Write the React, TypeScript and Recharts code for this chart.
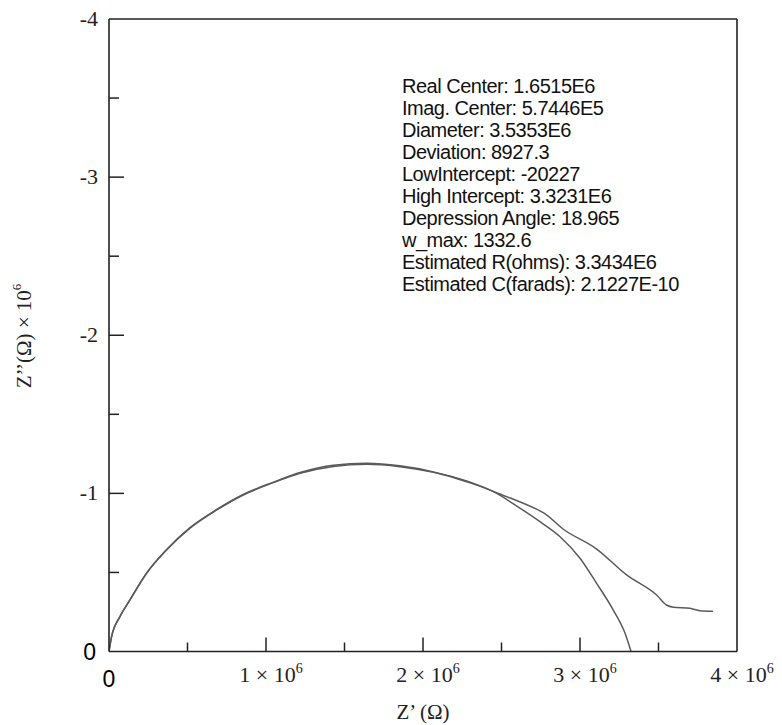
import { LineChart, Line, XAxis, YAxis, ReferenceLine } from 'recharts';

// Z' (ohm) and -Z'' (x 1e6 ohm)
const fitZre = [0, 17000, 70000, 134000, 240000, 367000, 516000, 686000, 855000, 1047000, 1217000, 1429000, 1641000, 1853000, 2066000, 2278000, 2448000, 2620000, 2745000, 2873000, 3000000, 3106000, 3212000, 3287000, 3325000];
const fitZim = [0, -0.094, -0.22, -0.326, -0.495, -0.642, -0.78, -0.895, -0.99, -1.068, -1.127, -1.17, -1.184, -1.169, -1.133, -1.074, -1.011, -0.905, -0.821, -0.726, -0.59, -0.431, -0.262, -0.115, 0];

const measZre = [0, 15000, 70000, 134000, 240000, 367000, 516000, 686000, 855000, 1047000, 1217000, 1429000, 1641000, 1853000, 2066000, 2278000, 2490000, 2745000, 2766000, 2894000, 3106000, 3297000, 3488000, 3551000, 3594000, 3700000, 3764000, 3848000];
const measZim = [0, -0.09, -0.222, -0.328, -0.497, -0.645, -0.783, -0.898, -0.993, -1.071, -1.132, -1.178, -1.19, -1.174, -1.136, -1.078, -0.996, -0.889, -0.878, -0.773, -0.648, -0.484, -0.357, -0.294, -0.28, -0.273, -0.258, -0.254];

const xTicks = [0, 500000, 1000000, 1500000, 2000000, 2500000, 3000000, 3500000, 4000000];
const yTicks = [-4, -3.5, -3, -2.5, -2, -1.5, -1, -0.5, 0];

const fitLines = [
  'Real Center: 1.6515E6',
  'Imag. Center: 5.7446E5',
  'Diameter: 3.5353E6',
  'Deviation: 8927.3',
  'LowIntercept: -20227',
  'High Intercept: 3.3231E6',
  'Depression Angle: 18.965',
  'w_max: 1332.6',
  'Estimated R(ohms): 3.3434E6',
  'Estimated C(farads): 2.1227E-10',
];

const fitData = fitZre.map((zre, i) => ({ zre, zim: fitZim[i] }));
const measData = measZre.map((zre, i) => ({ zre, zim: measZim[i] }));

const AXIS = '#222';
const CURVE = '#5a5a5a';
const SERIF = '"Liberation Serif", "Times New Roman", serif';
const SANS = '"Liberation Sans", Arial, sans-serif';

const XTick = (props: any) => {
  const { x, y, payload } = props;
  const v = payload.value;
  const mil = v / 1e6;
  const major = Number.isInteger(mil);
  const edge = v === 0 || v === 4000000;
  return (
    <g>
      {!edge && <line x1={x} y1={y} x2={x} y2={y - (major ? 14 : 9)} stroke={AXIS} strokeWidth={1.5} />}
      {v === 0 && (
        <text x={x} y={y + 35} textAnchor="middle" fontFamily={SANS} fontSize={23} fill="#000">0</text>
      )}
      {v !== 0 && major && (
        <text x={x + 5} y={y + 30} textAnchor="middle" fontFamily={SERIF} fontSize={22} fill="#222">
          {mil} × 10<tspan dy={-9} fontSize={14}>6</tspan>
        </text>
      )}
    </g>
  );
};

const YTick = (props: any) => {
  const { x, y, payload } = props;
  const v = payload.value;
  const major = Number.isInteger(v);
  const edge = v === 0 || v === -4;
  return (
    <g>
      {!edge && <line x1={x} y1={y} x2={x + (major ? 15 : 10)} y2={y} stroke={AXIS} strokeWidth={1.5} />}
      {v === 0 && (
        <text x={x - 13} y={y + 8} textAnchor="end" fontFamily={SANS} fontSize={23} fill="#000">0</text>
      )}
      {v !== 0 && major && (
        <text x={x - 11} y={y + 7} textAnchor="end" fontFamily={SERIF} fontSize={22} fill="#222">{v}</text>
      )}
    </g>
  );
};

export default function App() {
  return (
    <div style={{ position: 'absolute', left: 0, top: 0, width: 782, height: 725, background: '#fff' }}>
      <LineChart width={782} height={725} margin={{ top: 19, right: 45, bottom: 72.5, left: 108 }}>
        <XAxis
          dataKey="zre"
          type="number"
          domain={[0, 4000000]}
          ticks={xTicks}
          tick={<XTick />}
          tickLine={false}
          tickSize={0}
          tickMargin={0}
          height={1}
          interval={0}
          allowDataOverflow
          axisLine={{ stroke: AXIS, strokeWidth: 1.6 }}
        />
        <YAxis
          type="number"
          domain={[-4, 0]}
          reversed
          ticks={yTicks}
          tick={<YTick />}
          tickLine={false}
          tickSize={0}
          tickMargin={0}
          width={1}
          interval={0}
          allowDataOverflow
          axisLine={{ stroke: AXIS, strokeWidth: 1.6 }}
        />
        <ReferenceLine y={-4} stroke={AXIS} strokeWidth={1.6} />
        <ReferenceLine x={4000000} stroke={AXIS} strokeWidth={1.6} />
        <Line data={fitData} dataKey="zim" type="monotone" stroke={CURVE} strokeWidth={1.5} dot={false} isAnimationActive={false} />
        <Line data={measData} dataKey="zim" type="monotone" stroke={CURVE} strokeWidth={1.5} dot={false} isAnimationActive={false} />
      </LineChart>
      <svg width={782} height={725} style={{ position: 'absolute', left: 0, top: 0, pointerEvents: 'none' }}>
        <text x={24} y={336} transform="rotate(-90 24 336)" textAnchor="middle" dominantBaseline="central" fontFamily={SERIF} fontSize={21} fill="#222">
          Z’’(Ω) × 10<tspan dy={-8} fontSize={13}>6</tspan>
        </text>
        <text x={423} y={719} textAnchor="middle" fontFamily={SERIF} fontSize={21} fill="#222">Z’ (Ω)</text>
        {fitLines.map((t, i) => (
          <text key={t} x={402} y={93 + i * 22} fontFamily={SANS} fontSize={20} letterSpacing={-0.5} fill="#111">{t}</text>
        ))}
      </svg>
    </div>
  );
}
